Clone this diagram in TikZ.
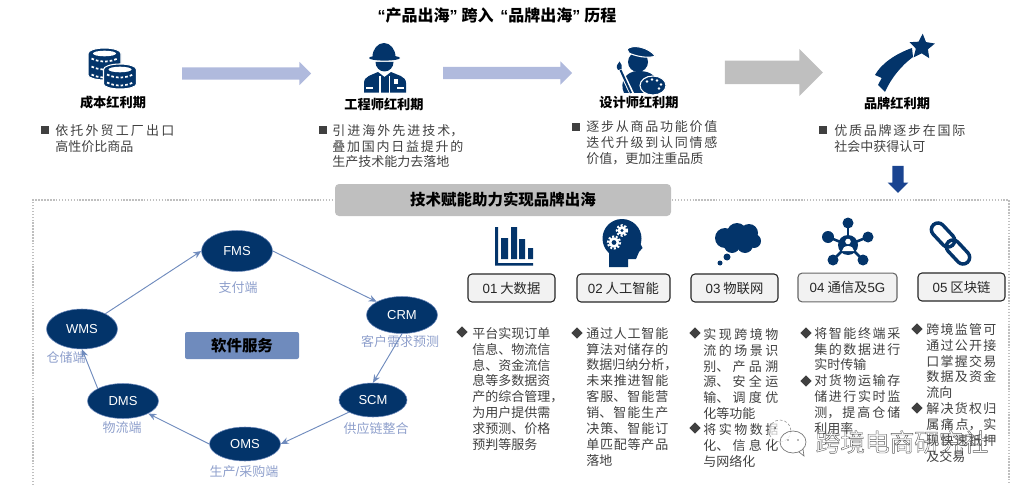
\documentclass[tikz,border=0pt]{standalone}
\usepackage{fontspec}
\setmainfont{Noto Sans CJK SC}
\newfontfamily\lat{Liberation Sans}
\usetikzlibrary{shapes.geometric,shapes.arrows,arrows.meta}
\XeTeXlinebreaklocale "zh"
\XeTeXlinebreakskip=0pt plus 3pt
\XeTeXlinebreakpenalty=10000
\definecolor{iconblue}{HTML}{03346A}
\definecolor{linkblue}{HTML}{6F8BBD}
\definecolor{labelblue}{HTML}{8FA0CC}
\definecolor{paleblue}{HTML}{B0BADD}
\definecolor{downblue}{HTML}{1A4490}
\definecolor{banner}{HTML}{BFBFBF}
\definecolor{bodygray}{HTML}{404040}
\tikzset{
  softnode/.style={ellipse,fill=iconblue,draw=linkblue,line width=.4pt,inner sep=0pt,text=white,font=\lat\fontsize{9.75pt}{11pt}\selectfont},
  softlabel/.style={text=labelblue,inner sep=0pt,font=\fontsize{9.75pt}{11pt}\selectfont},
  softlink/.style={-{Stealth[length=6pt,width=5pt]},linkblue,line width=.7pt},
  eratitle/.style={inner sep=0pt,font=\bfseries\fontsize{9.9pt}{11pt}\selectfont},
  techbox/.style={rectangle,rounded corners=3pt,draw=black!85,fill=black!5,line width=.8pt,inner sep=0pt,text=black!85,font=\fontsize{10pt}{11pt}\selectfont},
  bodytext/.style={anchor=north west,inner sep=0pt,align=justify,text=bodygray,font=\fontsize{9.75pt}{11.9pt}\selectfont},
  squaremark/.style={rectangle,fill=bodygray,inner sep=0pt,minimum size=6pt},
  diamondmark/.style={diamond,fill=bodygray,inner sep=0pt,minimum size=8.5pt},
  palearrow/.style={single arrow,fill=paleblue,inner xsep=0pt,inner ysep=4.4pt,minimum height=96.75pt,minimum width=17.25pt,single arrow head extend=4.2pt},
}
\newcommand{\coinstack}[4]{%
  \draw[white,line width=.8pt,fill=iconblue] (#1-16.5,#2) arc[start angle=180,end angle=360,x radius=16.5,y radius=5.5] -- (#1+16.5,#2+#3) arc[start angle=0,end angle=180,x radius=16.5,y radius=5] -- cycle;
  \fill[white] (#1,#2) ellipse (11.5 and 2.8);
  \foreach \band in {#4}
    \draw[white,line width=1.3pt,dash pattern=on 2pt off 1.5pt] (#1-13,#2+\band) .. controls (#1-5,#2+\band+4) and (#1+5,#2+\band+4) .. (#1+13,#2+\band);
}
\newcommand{\gearicon}[3]{%
  \draw[white,line width=1.6pt,dash pattern=on 1.5pt off 1.3pt] (#1,#2) circle (#3);
  \fill[white] (#1,#2) circle (#3-.8);
  \fill[iconblue] (#1,#2) circle (#3-3.6);
}
\begin{document}
\begin{tikzpicture}[x=.75pt,y=-.75pt]
  \useasboundingbox (0,0) rectangle (1021,485);
  \node[inner sep=0pt,font=\bfseries\fontsize{12pt}{14pt}\selectfont] (maintitle) at (497,15) {{\lat “}产品出海{\lat ”}\kern3pt 跨入\kern5pt {\lat “}品牌出海{\lat ”}\kern3pt 历程};

  \node[palearrow] (arrowa) at (243.5,73.5) {};
  \node[palearrow] (arrowb) at (504.5,73) {};
  \node[single arrow,fill=banner,inner xsep=0pt,inner ysep=8.6pt,minimum height=73.5pt,minimum width=35.25pt,single arrow head extend=8.8pt] (arrowc) at (768,72.5) {};
  \node[single arrow,shape border rotate=270,fill=downblue,inner ysep=0pt,inner xsep=4.1pt,minimum height=20.25pt,minimum width=15pt,single arrow head extend=3.4pt] (arrowd) at (898,176.5) {};

  % coins
  \coinstack{104.5}{53.5}{21.5}{5,13,21}
  \coinstack{120}{69.5}{14.5}{5,13}
  % engineer
  \fill[iconblue] (372.5,57) arc[start angle=180,end angle=360,x radius=11.5,y radius=14] -- cycle;
  \fill[iconblue] (384.5,58) ellipse (15.5 and 2.6);
  \fill[iconblue] (375.5,62) arc[start angle=180,end angle=0,x radius=9,y radius=9.5] -- cycle;
  \fill[iconblue] (364,92.7) -- (364,83) .. controls (364,76) and (372,75) .. (378,72) -- (384.5,77) -- (391,72) .. controls (397,75) and (406,76) .. (406,83) -- (406,92.7) -- cycle;
  \draw[white,line width=.8pt] (380,76) -- (380,93) (389.5,76) -- (389.5,93) (366,88) -- (373,88) (397,88) -- (404,88);
  \fill[white] (394,79) rectangle (398,84);
  % painter
  \fill[iconblue] (638,62) circle (10);
  \draw[white,line width=.8pt,fill=iconblue] (627,49) .. controls (633,44) and (648,47) .. (655.5,56) .. controls (648,59) and (635,56) .. (629,53) -- cycle;
  \fill[iconblue] (624,93) .. controls (619,82) and (626,71) .. (638,71) .. controls (648,71) and (654,74) .. (657,80) -- (645,93) -- cycle;
  \draw[white,line width=3.4pt] (619.5,68) -- (632,94);
  \draw[iconblue,line width=1.5pt] (620.5,70) -- (631,93);
  \fill[iconblue] (618,70) .. controls (615,66) and (618,64) .. (619.5,61.5) .. controls (621,64) and (623,66) .. (621.5,69) -- cycle;
  \draw[white,line width=.8pt,fill=iconblue] (653,85.5) ellipse (13 and 9.5);
  \foreach \dx/\dy in {-6/-4,-1/-6,4/-5,8/-1,6/3}
    \fill[white] (653+\dx,85.5+\dy) circle (1.3);
  % star
  \node[star,star points=5,star point ratio=2.1,fill=iconblue,inner sep=0pt,minimum size=20pt,rotate=-3] (staricon) at (922,47) {};
  \fill[iconblue] (912,48) .. controls (895,54) and (881,64) .. (875,75) -- (881.7,78) -- (878,85) -- (885,92) .. controls (891,78) and (902,65) .. (913,57) -- cycle;

  \node[eratitle] (eraa) at (113,102) {成本红利期};
  \node[eratitle] (erab) at (384,104) {工程师红利期};
  \node[eratitle] (erac) at (639,102) {设计师红利期};
  \node[eratitle] (erad) at (897,103) {品牌红利期};

  \node[squaremark] (marka) at (45,130) {};
  \node[squaremark] (markb) at (323,130) {};
  \node[squaremark] (markc) at (576,127) {};
  \node[squaremark] (markd) at (823,130) {};
  \node[bodytext,text width=119*.75pt] (texta) at (55,124) {依托外贸工厂出口\linebreak 高性价比商品};
  \node[bodytext,text width=131*.75pt] (textb) at (332,124) {引进海外先进技术，\linebreak 叠加国内日益提升的\linebreak 生产技术能力去落地};
  \node[bodytext,text width=131*.75pt] (textc) at (586,120.5) {逐步从商品功能价值\linebreak 迭代升级到认同情感\linebreak 价值，更加注重品质};
  \node[bodytext,text width=131*.75pt] (textd) at (834,124) {优质品牌逐步在国际\linebreak 社会中获得认可};

  \draw[banner,line width=1.1pt,dash pattern=on 1.1pt off 1.1pt] (33,485) -- (33,200) -- (1009,200) -- (1009,485);
  \node[rectangle,rounded corners=3pt,fill=banner,inner sep=0pt,minimum width=252pt,minimum height=24pt,font=\bfseries\fontsize{11.6pt}{13pt}\selectfont] (techtitle) at (503,200) {技术赋能助力实现品牌出海};

  \node[softnode,minimum width=53.25pt,minimum height=30.75pt] (fms) at (237,251) {FMS};
  \node[softnode,minimum width=53.25pt,minimum height=27.75pt] (crm) at (402,315) {CRM};
  \node[softnode,minimum width=51pt,minimum height=25.5pt] (scm) at (373,400) {SCM};
  \node[softnode,minimum width=53.25pt,minimum height=25.5pt] (oms) at (245,444) {OMS};
  \node[softnode,minimum width=53.25pt,minimum height=26.25pt] (dms) at (123,401) {DMS};
  \node[softnode,minimum width=53.25pt,minimum height=30pt] (wms) at (82,329) {WMS};
  \node[softlabel] (fmslabel) at (238,288) {支付端};
  \node[softlabel] (crmlabel) at (400,342) {客户需求预测};
  \node[softlabel] (scmlabel) at (376,429) {供应链整合};
  \node[softlabel] (omslabel) at (244,472) {生产{\lat /}采购端};
  \node[softlabel] (dmslabel) at (122,428) {物流端};
  \node[softlabel] (wmslabel) at (66,358) {仓储端};
  \draw[softlink] (wms) -- (fms.west);
  \draw[softlink] (fms.east) -- (crm.north west);
  \draw[softlink] (crm.south) -- (scm.north);
  \draw[softlink] (scm.south west) -- (oms.east);
  \draw[softlink] (oms.west) -- (dms.south east);
  \draw[softlink] (dms.north west) -- (wms.south);
  \node[rectangle,rounded corners=1.5pt,fill=linkblue,inner sep=0pt,minimum width=85.5pt,minimum height=20.25pt,font=\bfseries\fontsize{11.6pt}{13pt}\selectfont] (softbox) at (242,345.5) {软件服务};

  % bars
  \fill[iconblue] (495,227) rectangle (498,265.5) (495,263) rectangle (533,265.5);
  \fill[iconblue] (501,238) rectangle (508,259) (511,227) rectangle (517,259) (519,239) rectangle (525,259) (528,248) rectangle (533,259);
  % head
  \fill[iconblue] (622,238.5) circle (19.5);
  \fill[iconblue] (609,250) -- (609,267) -- (628,267) -- (628,259) -- (636,259) -- (639,252) -- (642.5,248) -- (639,241) -- cycle;
  \gearicon{622}{230.5}{5.2}
  \gearicon{614}{242.5}{6}
  % cloud
  \foreach \cx/\cy/\cr in {725/238/10,737/233/10,749/233/9,754/241/7,745/245/8,732/245/8,727/257/3.5,720/263/2.5}
    \fill[iconblue] (\cx,\cy) circle (\cr);
  % network
  \foreach \nx/\ny/\nr in {848/223/5.5,828/237/6,868/237/5.5,833/260/5.5,863/260/5.5} {
    \draw[iconblue,line width=1.9pt] (848,245) -- (\nx,\ny);
    \fill[iconblue] (\nx,\ny) circle (\nr);
  }
  \fill[iconblue] (848,245) circle (10);
  \fill[white] (848,241.5) circle (2.8);
  \fill[white] (842,251) arc[start angle=180,end angle=360,x radius=6,y radius=5] -- cycle;
  % chain
  \node[rectangle,rounded corners=5pt,draw=iconblue,line width=2.6pt,minimum width=21pt,minimum height=10pt,rotate=-47] (linka) at (943,235) {};
  \node[rectangle,rounded corners=5pt,draw=iconblue,line width=2.6pt,minimum width=21pt,minimum height=10pt,rotate=-47] (linkb) at (958,252) {};

  \node[techbox,minimum width=65.25pt,minimum height=21pt] (techa) at (511.5,288) {{\lat 01} 大数据};
  \node[techbox,minimum width=69.75pt,minimum height=21pt] (techb) at (623.5,288) {{\lat 02} 人工智能};
  \node[techbox,minimum width=65.25pt,minimum height=21pt] (techc) at (734.5,288) {{\lat 03} 物联网};
  \node[techbox,draw=black!60,minimum width=74.25pt,minimum height=21.5pt] (techd) at (847.5,287.5) {{\lat 04} 通信及{\lat 5G}};
  \node[techbox,minimum width=65.25pt,minimum height=21pt] (teche) at (961.5,287) {{\lat 05} 区块链};

  \node[diamondmark] (marke) at (462,332) {};
  \node[bodytext,text width=78*.75pt] (texte) at (472,327) {平台实现订单\linebreak 信息、物流信\linebreak 息、资金流信\linebreak 息等多数据资\linebreak 产的综合管理，\linebreak 为用户提供需\linebreak 求预测、价格\linebreak 预判等服务};
  \node[diamondmark] (markf) at (577,333) {};
  \node[bodytext,text width=82*.75pt] (textf) at (586,327) {通过人工智能\linebreak 算法对储存的\linebreak 数据归纳分析，\linebreak 未来推进智能\linebreak 客服、智能营\linebreak 销、智能生产\linebreak 决策、智能订\linebreak 单匹配等产品\linebreak 落地};
  \node[diamondmark] (markg) at (695,333) {};
  \node[bodytext,text width=75*.75pt] (textg) at (703,328) {实现跨境物\linebreak 流的场景识\linebreak 别、产品溯\linebreak 源、安全运\linebreak 输、调度优\linebreak 化等功能\newline 将实物数据\linebreak 化、信息化\linebreak 与网络化};
  \node[diamondmark] (markh) at (695,428) {};
  \node[diamondmark] (marki) at (806,333) {};
  \node[bodytext,text width=86*.75pt] (texti) at (814,327) {将智能终端采\linebreak 集的数据进行\linebreak 实时传输\newline 对货物运输存\linebreak 储进行实时监\linebreak 测，提高仓储\linebreak 利用率};
  \node[diamondmark] (markj) at (806,381) {};
  \node[diamondmark] (markk) at (917,329) {};
  \node[bodytext,text width=70*.75pt] (textk) at (926,323) {跨境监管可\linebreak 通过公开接\linebreak 口掌握交易\linebreak 数据及资金\linebreak 流向\newline 解决货权归\linebreak 属痛点，实\linebreak 现快速抵押\linebreak 及交易};
  \node[diamondmark] (markl) at (917,408) {};

  \fill[white,fill opacity=.7] (780,431) circle (11);
  \draw[black!45,line width=.4pt,dash pattern=on 2pt off 1.5pt] (780,431) circle (11);
  \fill[black!70] (775,428) circle (1);
  \draw[black!55,line width=.5pt,fill=white,fill opacity=.8] (793,442) ellipse (13 and 11);
  \draw[black!55,line width=.5pt] (799,452) -- (804,456) -- (803,449);
  \fill[black!55] (788,440) circle (.9) (798,440) circle (.9);
  \node[inner sep=0pt,text=black!65,font=\fontsize{18.5pt}{20pt}\selectfont] (watermark) at (902,442) {\special{pdf:code 1 Tr .3 w}跨境电商研究社\special{pdf:code 0 Tr}};
\end{tikzpicture}
\end{document}
